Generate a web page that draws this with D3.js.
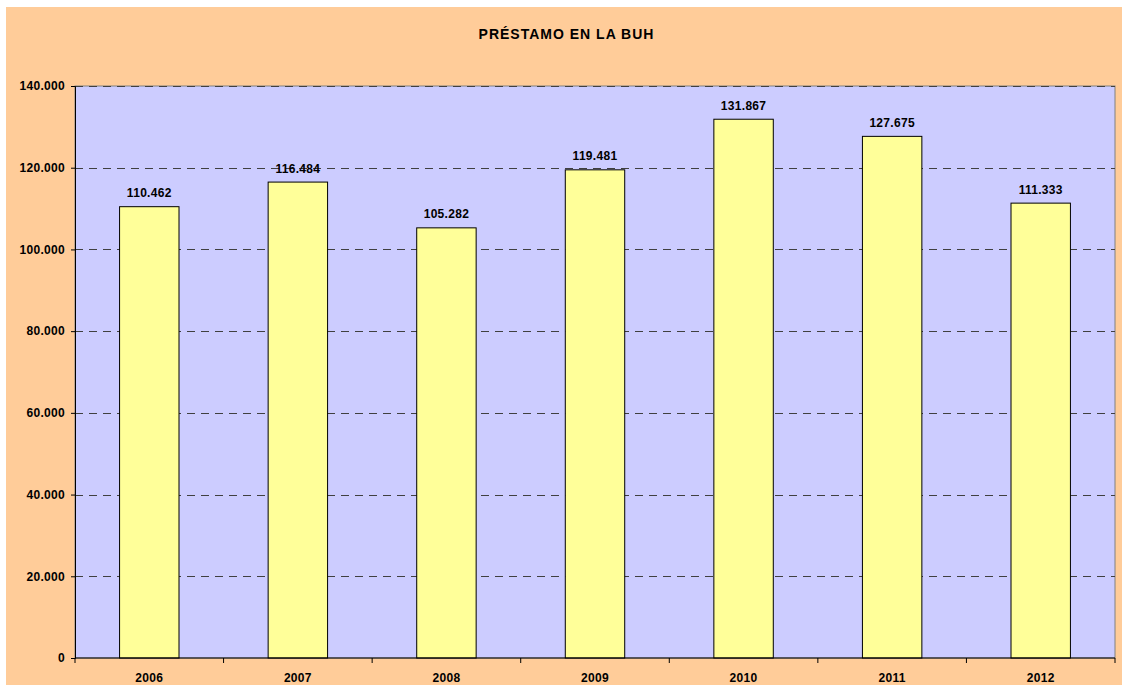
<!DOCTYPE html>
<html>
<head>
<meta charset="utf-8">
<script src="https://cdn.jsdelivr.net/npm/d3@7"></script>
<style>
  html, body { margin: 0; padding: 0; background: #ffffff; }
  svg { display: block; }
  text { font-family: Arial, "Liberation Sans", sans-serif; font-weight: bold; fill: #000; }
</style>
</head>
<body>
<svg id="chart" width="1122" height="695"></svg>
<script>
const title = "PRÉSTAMO EN LA BUH";
const categories = ["2006", "2007", "2008", "2009", "2010", "2011", "2012"];
const values = [110462, 116484, 105282, 119481, 131867, 127675, 111333];
const yTicks = [0, 20000, 40000, 60000, 80000, 100000, 120000, 140000];

const svg = d3.select("#chart");
const fmt = v => d3.format(",.0f")(v).replace(/,/g, ".");
const FONT = "Arial, 'Liberation Sans', sans-serif";

// chart background
svg.append("rect").attr("x", 6).attr("y", 7).attr("width", 1116).attr("height", 678)
  .attr("fill", "#FFCC99");

const plot = { left: 75, top: 86, right: 1115, bottom: 658 };

const x = d3.scaleBand().domain(categories).range([plot.left, plot.right]).paddingInner(0.6).paddingOuter(0.3);
const xOuter = d3.scaleBand().domain(categories).range([plot.left, plot.right]).padding(0);
const y = d3.scaleLinear().domain([0, 140000]).range([plot.bottom, plot.top]);

// plot area
svg.append("rect").attr("x", plot.left).attr("y", plot.top)
  .attr("width", plot.right - plot.left).attr("height", plot.bottom - plot.top)
  .attr("fill", "#CCCCFF").attr("stroke", "#808080").attr("stroke-width", 1);

// gridlines
svg.append("g").selectAll("line").data(yTicks.filter(d => d > 0)).join("line")
  .attr("x1", plot.left).attr("x2", plot.right)
  .attr("y1", d => Math.round(y(d)) + 0.5).attr("y2", d => Math.round(y(d)) + 0.5)
  .attr("stroke", "#404040").attr("stroke-width", 1).attr("stroke-dasharray", "8,6");

// bars
svg.append("g").selectAll("rect").data(values).join("rect")
  .attr("x", (d, i) => x(categories[i]))
  .attr("y", d => y(d))
  .attr("width", x.bandwidth())
  .attr("height", d => plot.bottom - y(d))
  .attr("fill", "#FFFF99").attr("stroke", "#000").attr("stroke-width", 1);

// data labels
svg.append("g").selectAll("text").data(values).join("text")
  .attr("x", (d, i) => x(categories[i]) + x.bandwidth() / 2)
  .attr("y", d => y(d) - 9.5)
  .attr("text-anchor", "middle").attr("font-size", 12).attr("letter-spacing", 0.3)
  .text(d => fmt(d));

// y axis
const yAxis = d3.axisLeft(y).tickValues(yTicks).tickFormat(fmt).tickSize(4).tickPadding(6);
const gy = svg.append("g").attr("transform", `translate(${plot.left},0)`).call(yAxis);
gy.select(".domain").attr("stroke", "#000");
gy.selectAll(".tick line").attr("stroke", "#000");
gy.selectAll(".tick text").attr("font-size", 12).attr("font-family", FONT)
  .attr("font-weight", "bold").attr("fill", "#000").attr("letter-spacing", 0.3);

// x axis
const gx = svg.append("g").attr("transform", `translate(0,${plot.bottom})`);
gx.append("line").attr("x1", plot.left).attr("x2", plot.right).attr("y1", 0).attr("y2", 0).attr("stroke", "#000");
const bounds = categories.map(c => xOuter(c)).concat([plot.right]);
gx.selectAll("line.t").data(bounds).join("line").attr("class", "t")
  .attr("x1", d => d).attr("x2", d => d).attr("y1", 0).attr("y2", 5).attr("stroke", "#000");
gx.selectAll("text").data(categories).join("text")
  .attr("x", d => xOuter(d) + xOuter.bandwidth() / 2).attr("y", 24)
  .attr("text-anchor", "middle").attr("font-size", 12).attr("letter-spacing", 0.3).text(d => d);

// title
svg.append("text").attr("x", 566.5).attr("y", 39).attr("text-anchor", "middle")
  .attr("font-size", 14).attr("letter-spacing", 1).text(title);
</script>
</body>
</html>
